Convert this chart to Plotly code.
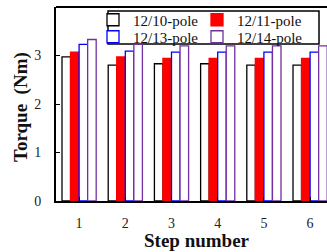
import plotly.graph_objects as go

steps = [1, 2, 3, 4, 5, 6]
pole_12_10 = [2.97, 2.80, 2.83, 2.83, 2.80, 2.80]
pole_12_11 = [3.07, 2.97, 2.94, 2.94, 2.94, 2.94]
pole_12_13 = [3.23, 3.09, 3.07, 3.07, 3.07, 3.07]
pole_12_14 = [3.33, 3.23, 3.20, 3.20, 3.20, 3.20]
y_ticks = [0, 1, 2, 3, 4]

serif = "Liberation Serif, Times New Roman, serif"

W, H = 327, 252
L, R, T, B = 56, 0, 7, 51
pw, ph = W - L - R, H - T - B


def px_x(p):
    return (p - L) / pw


def px_y(p):
    return (H - B - p) / ph


fig = go.Figure()
series = [
    ("12/10-pole", pole_12_10, "white", "black", "legend"),
    ("12/11-pole", pole_12_11, "#FF0000", "#FF0000", "legend2"),
    ("12/13-pole", pole_12_13, "white", "#0000FF", "legend3"),
    ("12/14-pole", pole_12_14, "white", "#7030A0", "legend4"),
]
for name, vals, fill, line, lg in series:
    fig.add_trace(go.Bar(x=steps, y=vals, name=name, legend=lg,
                         marker=dict(color=fill, line=dict(color=line, width=1.3))))

leg_common = dict(orientation="h", xanchor="left", yanchor="middle",
                  bgcolor="rgba(0,0,0,0)", borderwidth=0,
                  font=dict(family=serif, size=15, color="#111"),
                  itemwidth=30)

col1, col2 = 93, 197
row1, row2 = 20, 37

fig.update_layout(
    width=W, height=H,
    margin=dict(l=L, r=R, t=T, b=B, autoexpand=False),
    paper_bgcolor="white", plot_bgcolor="white",
    barmode="group", bargap=0.26, bargroupgap=0,
    font=dict(family=serif, color="#222", size=14),
    showlegend=True,
    legend=dict(x=px_x(col1), y=px_y(row1), **leg_common),
    legend2=dict(x=px_x(col2), y=px_y(row1), **leg_common),
    legend3=dict(x=px_x(col1), y=px_y(row2), **leg_common),
    legend4=dict(x=px_x(col2), y=px_y(row2), **leg_common),
    xaxis=dict(range=[0.5, 0.5 + pw / 46.2], tickvals=steps,
               showline=True, linecolor="black", linewidth=2,
               ticks="inside", ticklen=4, tickcolor="black", tickson="boundaries",
               ticklabelstandoff=8, showgrid=False, zeroline=False,
               tickfont=dict(family=serif, size=14, color="#222")),
    yaxis=dict(range=[0, 4], tickvals=y_ticks,
               showline=True, linecolor="black", linewidth=2,
               ticks="inside", ticklen=4, tickcolor="black",
               showgrid=False, zeroline=False,
               ticklabelstandoff=10,
               tickfont=dict(family=serif, size=14, color="#222")),
    annotations=[
        dict(text="<b>Torque\u00a0\u00a0(Nm)</b>", textangle=-90, xref="paper", yref="paper",
             x=px_x(21), y=px_y(107), xanchor="center", yanchor="middle", showarrow=False,
             font=dict(family=serif, size=19, color="#111")),
        dict(text="<b>Step number</b>", xref="paper", yref="paper",
             x=px_x(197), y=px_y(240), xanchor="center", yanchor="middle", showarrow=False,
             font=dict(family=serif, size=19, color="#111")),
    ],
)

# top frame line
fig.add_shape(type="line", xref="paper", yref="paper", x0=0, x1=1, y0=1, y1=1,
              line=dict(color="black", width=2))
# legend frame
fig.add_shape(type="rect", xref="paper", yref="paper",
              x0=px_x(108), x1=px_x(319), y0=px_y(44), y1=px_y(11),
              line=dict(color="black", width=1.5), fillcolor="white", layer="below")

fig.write_html("out.html", config={"displayModeBar": False},
               post_script="document.body.style.margin='0';")
